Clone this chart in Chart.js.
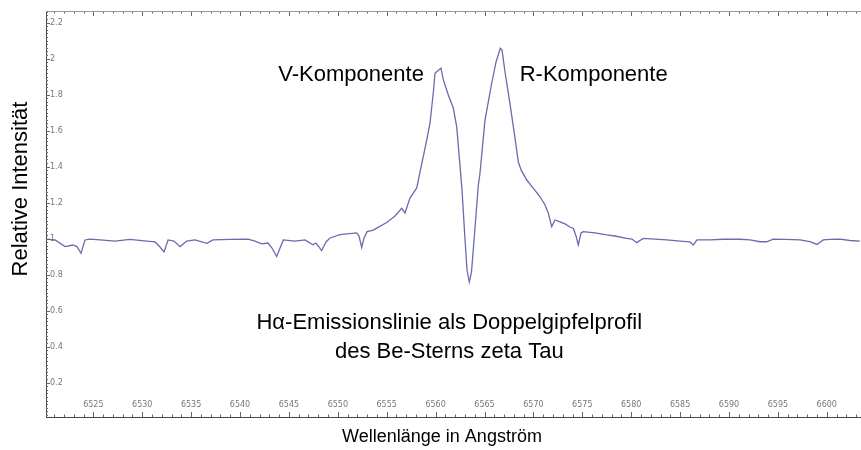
<!DOCTYPE html>
<html>
<head>
<meta charset="utf-8">
<script src="https://cdn.jsdelivr.net/npm/chart.js@4.4.0/dist/chart.umd.min.js"></script>
<style>
  html, body { margin: 0; padding: 0; background: #fff; }
  #wrap { width: 861px; height: 450px; }
</style>
</head>
<body>
<div id="wrap"><canvas id="chart1"></canvas></div>
<script>
// wavelength in Angstrom
var wavelengths = [
    6520.16, 6521.08, 6522.11, 6522.92, 6523.33, 6523.74, 6524.15, 6524.66, 6525.69, 6527.22,
    6528.75, 6530.46, 6531.31, 6531.82, 6532.23, 6532.64, 6533.25, 6533.87, 6534.55, 6535.40,
    6536.60, 6537.24, 6538.98, 6540.82, 6541.53, 6542.22, 6542.86, 6543.27, 6543.75, 6544.09,
    6544.43, 6545.62, 6546.65, 6547.46, 6547.77, 6548.35, 6548.79, 6549.20, 6550.22, 6551.93,
    6552.17, 6552.44, 6552.68, 6552.99, 6553.63, 6553.98, 6555.00, 6555.85, 6556.53, 6556.87,
    6557.38, 6558.07, 6558.41, 6559.09, 6559.43, 6559.77, 6559.94, 6560.14, 6560.55, 6560.79,
    6561.30, 6561.81, 6562.16, 6562.49, 6562.70, 6563.01, 6563.21, 6563.45, 6563.67, 6563.85,
    6564.13, 6564.37, 6564.54, 6565.05, 6565.74, 6566.18, 6566.62, 6566.79, 6567.10, 6567.61,
    6568.12, 6568.46, 6568.74, 6569.32, 6569.96, 6570.68, 6571.19, 6571.52, 6571.87, 6572.21,
    6572.72, 6573.23, 6573.74, 6574.08, 6574.36, 6574.59, 6574.87, 6575.10, 6576.30, 6577.49,
    6578.34, 6579.54, 6580.08, 6580.56, 6581.24, 6582.43, 6583.63, 6584.99, 6586.01, 6586.35,
    6586.73, 6588.06, 6589.42, 6591.12, 6592.15, 6593.17, 6593.85, 6594.53, 6595.73, 6597.26,
    6598.28, 6599.00, 6599.64, 6600.33, 6601.35, 6602.37, 6603.39
];

// relative intensity
var intensities = [
    0.998, 0.993, 0.956, 0.965, 0.956, 0.919, 0.993, 0.998, 0.993, 0.987,
    0.996, 0.987, 0.982, 0.954, 0.926, 0.993, 0.987, 0.956, 0.987, 0.993,
    0.974, 0.993, 0.996, 0.998, 0.987, 0.971, 0.976, 0.948, 0.901, 0.948,
    0.993, 0.987, 0.993, 0.966, 0.976, 0.934, 0.982, 1.004, 1.023, 1.032,
    1.015, 0.951, 1.004, 1.039, 1.048, 1.059, 1.090, 1.126, 1.169, 1.143,
    1.226, 1.282, 1.371, 1.548, 1.643, 1.815, 1.919, 1.929, 1.947, 1.882,
    1.798, 1.726, 1.621, 1.409, 1.271, 0.993, 0.826, 0.759, 0.815, 0.937,
    1.132, 1.298, 1.365, 1.659, 1.865, 1.982, 2.058, 2.048, 1.926, 1.748,
    1.559, 1.426, 1.382, 1.326, 1.282, 1.233, 1.187, 1.143, 1.067, 1.104,
    1.093, 1.082, 1.065, 1.057, 1.015, 0.965, 1.032, 1.039, 1.032, 1.021,
    1.015, 1.002, 0.998, 0.978, 1.002, 0.998, 0.993, 0.987, 0.982, 0.965,
    0.993, 0.993, 0.997, 0.997, 0.993, 0.983, 0.983, 0.997, 0.996, 0.993,
    0.984, 0.968, 0.993, 0.996, 0.998, 0.990, 0.987
];

var xTickStep = 5;
var yTickStep = 0.2;

var points = wavelengths.map(function(w, i) { return {x: w, y: intensities[i]}; });

var textFont = '"Liberation Sans", Arial, sans-serif';

// small inward ticks on the frame, like the original plot
var frameTicks = {
    id: 'frameTicks',
    afterDraw: function(chart) {
        var ctx = chart.ctx, a = chart.chartArea, x = chart.scales.x, y = chart.scales.y;
        ctx.save();
        ctx.strokeStyle = '#666';
        ctx.lineWidth = 1;
        ctx.beginPath();
        for (var w = 6521; w <= 6603; w++) {
            var px = Math.round(x.getPixelForValue(w)) + 0.5;
            var len = (w % 5 === 0) ? 5 : 2.5;
            ctx.moveTo(px, a.bottom); ctx.lineTo(px, a.bottom - len);
            ctx.moveTo(px, a.top); ctx.lineTo(px, a.top + len);
        }
        for (var i = 1; i <= 113; i++) {
            var py = Math.round(y.getPixelForValue(i * 0.02)) + 0.5;
            var l2 = (i % 10 === 0) ? 4 : 2;
            ctx.moveTo(a.left, py); ctx.lineTo(a.left + l2, py);
        }
        ctx.stroke();
        ctx.strokeStyle = '#999';
        ctx.beginPath();
        ctx.moveTo(a.left, a.top + 0.5); ctx.lineTo(a.right, a.top + 0.5);
        ctx.stroke();
        ctx.restore();
    }
};

// axis titles and text notes
var notes = {
    id: 'notes',
    afterDatasetsDraw: function(chart) {
        var ctx = chart.ctx, x = chart.scales.x, y = chart.scales.y;
        ctx.save();
        ctx.fillStyle = '#000';
        ctx.textBaseline = 'middle';

        ctx.font = '22px ' + textFont;
        ctx.textAlign = 'right';
        ctx.fillText('V-Komponente', x.getPixelForValue(6558.8), y.getPixelForValue(1.91));
        ctx.textAlign = 'left';
        ctx.fillText('R-Komponente', x.getPixelForValue(6568.6), y.getPixelForValue(1.91));
        ctx.textAlign = 'center';
        ctx.fillText('H\u03b1-Emissionslinie als Doppelgipfelprofil', x.getPixelForValue(6561.4), y.getPixelForValue(0.53));
        ctx.fillText('des Be-Sterns zeta Tau', x.getPixelForValue(6561.4), y.getPixelForValue(0.37));

        // axis titles
        ctx.font = '18px ' + textFont;
        ctx.fillText('Wellenlänge in Angström', 442, 437);
        ctx.font = '22px ' + textFont;
        ctx.translate(21, 189);
        ctx.rotate(-Math.PI / 2);
        ctx.fillText('Relative Intensität', 0, 0);
        ctx.restore();
    }
};

var ctx = document.getElementById('chart1').getContext('2d');
var myChart = new Chart(ctx, {
    type: 'line',
    data: {
        datasets: [{
            label: 'H-alpha',
            data: points,
            borderColor: '#6a6aae',
            borderWidth: 1.3,
            pointRadius: 0,
            tension: 0,
            fill: false
        }]
    },
    options: {
        responsive: true,
        maintainAspectRatio: false,
        animation: false,
        layout: {
            padding: {left: 38, top: 11, right: 0, bottom: 18.6}
        },
        plugins: {
            legend: { display: false },
            tooltip: { enabled: false }
        },
        scales: {
            x: {
                type: 'linear',
                min: 6520.16,
                max: 6603.5,
                grid: { display: false, drawTicks: false },
                border: { display: true, color: '#444', width: 1 },
                ticks: {
                    stepSize: xTickStep,
                    includeBounds: false,
                    mirror: true,
                    padding: 7.2,
                    color: '#777',
                    font: { family: 'DejaVu Sans', size: 8 },
                    maxRotation: 0,
                    autoSkip: false,
                    callback: function(v) { return String(v); }
                },
                title: { display: false }
            },
            y: {
                min: 0.0094,
                max: 2.265,
                grid: { display: false, drawTicks: false },
                border: { display: true, color: '#444', width: 1 },
                ticks: {
                    stepSize: yTickStep,
                    includeBounds: false,
                    mirror: true,
                    padding: 4,
                    color: '#777',
                    font: { family: 'DejaVu Sans', size: 8 },
                    callback: function(v) { return String(Math.round(v * 10) / 10); }
                },
                title: { display: false }
            }
        }
    },
    plugins: [frameTicks, notes]
});
</script>
</body>
</html>
